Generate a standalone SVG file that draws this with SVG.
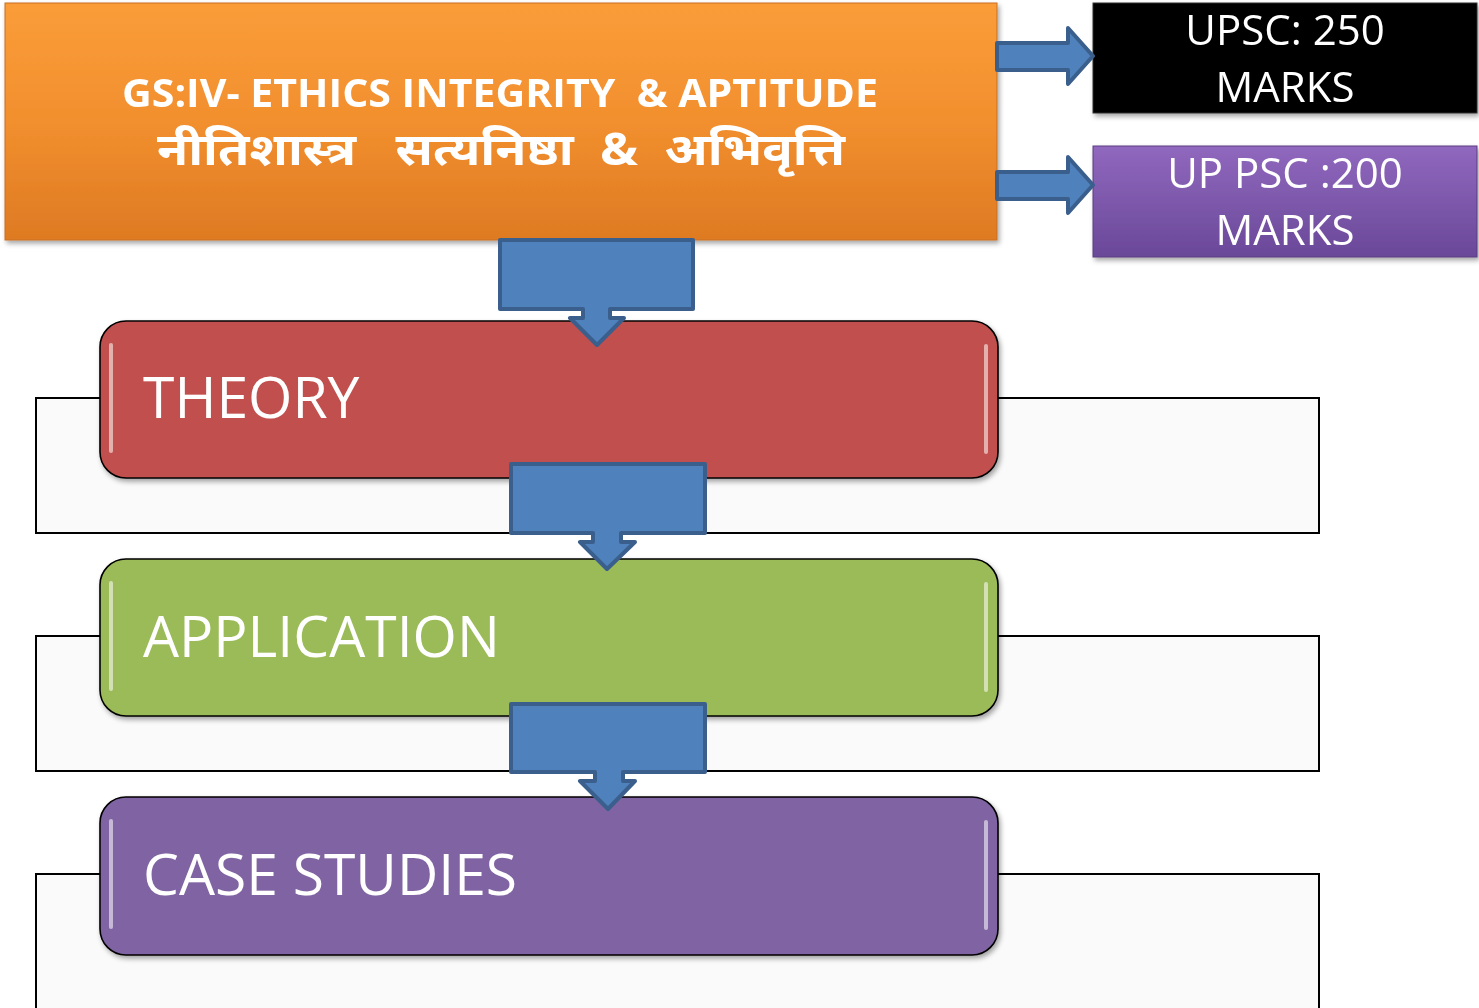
<svg xmlns="http://www.w3.org/2000/svg" width="1479" height="1008" viewBox="0 0 1479 1008">
<style>
.bg{fill:#FAFAFA;stroke:#000;stroke-width:2}
.box{stroke:#000;stroke-width:1.6}
.arrow{fill:#4F81BD;stroke:#3A5F8C;stroke-width:4;stroke-linejoin:round}
.t{fill:#fff;font-family:"Open Sans","Noto Sans",sans-serif}
.big{font-size:57px}
.mk{font-size:42px;text-anchor:middle}
.hl{stroke:#fff;stroke-opacity:0.55;stroke-width:4;stroke-linecap:round;fill:none}
</style>
<defs>
<linearGradient id="gOrange" x1="0" y1="0" x2="0" y2="1">
<stop offset="0" stop-color="#FA9D39"/>
<stop offset="0.5" stop-color="#F28F2E"/>
<stop offset="1" stop-color="#DE7A23"/>
</linearGradient>
<linearGradient id="gPurpleS" x1="0" y1="0" x2="0" y2="1">
<stop offset="0" stop-color="#9068BE"/>
<stop offset="1" stop-color="#6A4898"/>
</linearGradient>
<filter id="sh" x="-5%" y="-5%" width="110%" height="120%">
<feDropShadow dx="2" dy="3" stdDeviation="2.5" flood-color="#000" flood-opacity="0.35"/>
</filter>
</defs>

<g id="backgrounds">
<rect class="bg" x="36" y="398" width="1283" height="135"/>
<rect class="bg" x="36" y="636" width="1283" height="135"/>
<rect class="bg" x="36" y="874" width="1283" height="140"/>
</g>

<g id="title" filter="url(#sh)">
<rect x="5" y="3" width="992" height="237" fill="url(#gOrange)" stroke="#C96E1E" stroke-width="1"/>
<text class="t" x="500" y="107" text-anchor="middle" font-size="40" font-weight="bold" textLength="756" lengthAdjust="spacingAndGlyphs" xml:space="preserve">GS:IV- ETHICS INTEGRITY  &amp; APTITUDE</text>
<text class="t" x="501" y="165" text-anchor="middle" font-size="45" font-weight="bold" font-family="'Noto Sans Devanagari','Noto Sans','Noto Sans CJK SC',sans-serif" textLength="688" lengthAdjust="spacingAndGlyphs" xml:space="preserve">नीतिशास्त्र   सत्यनिष्ठा  &amp;  अभिवृत्ति</text>
</g>

<g id="upsc" filter="url(#sh)">
<rect x="1093" y="3" width="384" height="110" fill="#000" stroke="#333" stroke-width="1"/>
<text class="t mk" x="1285" y="45">UPSC: 250</text>
<text class="t mk" x="1285" y="102">MARKS</text>
</g>

<g id="uppsc" filter="url(#sh)">
<rect x="1093" y="146" width="384" height="111" fill="url(#gPurpleS)" stroke="#5A3C82" stroke-width="1"/>
<text class="t mk" x="1285" y="188">UP PSC :200</text>
<text class="t mk" x="1285" y="245">MARKS</text>
</g>

<g id="theory" filter="url(#sh)">
<rect class="box" x="100" y="321" width="898" height="157" rx="26" fill="#C0504D"/>
<line class="hl" x1="111" y1="345" x2="111" y2="451"/>
<line class="hl" x1="986" y1="346" x2="986" y2="452"/>
<text class="t big" x="143" y="418">THEORY</text>
</g>

<g id="application" filter="url(#sh)">
<rect class="box" x="100" y="559" width="898" height="157" rx="26" fill="#9BBB59"/>
<line class="hl" x1="111" y1="583" x2="111" y2="689"/>
<line class="hl" x1="986" y1="584" x2="986" y2="690"/>
<text class="t big" x="143" y="657">APPLICATION</text>
</g>

<g id="casestudies" filter="url(#sh)">
<rect class="box" x="100" y="797" width="898" height="158" rx="26" fill="#8064A2"/>
<line class="hl" x1="111" y1="821" x2="111" y2="927"/>
<line class="hl" x1="986" y1="822" x2="986" y2="928"/>
<text class="t big" x="143" y="895">CASE STUDIES</text>
</g>

<g id="connectors">
<path class="arrow" d="M997 43 H1068 V28 L1093 56 L1068 84 V70 H997 Z"/>
<path class="arrow" d="M997 172 H1068 V157 L1093 185 L1068 213 V199 H997 Z"/>
<path class="arrow" d="M500 240 H693 V309 H610 V318 H624 L597 345 L570 318 H583 V309 H500 Z"/>
<path class="arrow" d="M511 464 H705 V533 H621 V542 H635 L607 569 L580 542 H593 V533 H511 Z"/>
<path class="arrow" d="M511 704 H705 V772 H623 V781 H635 L608 809 L580 781 H595 V772 H511 Z"/>
</g>
</svg>
